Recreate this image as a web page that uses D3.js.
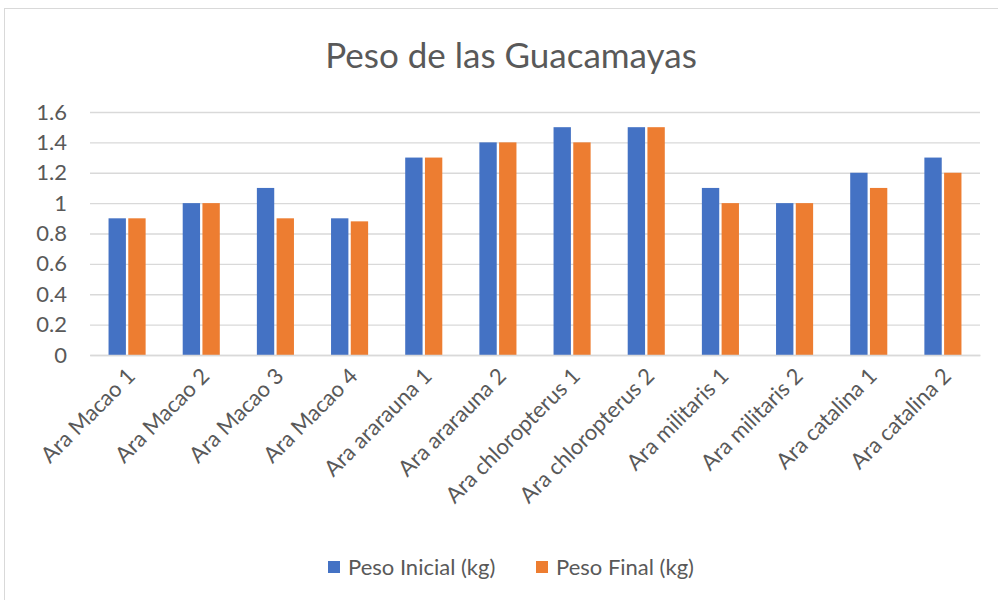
<!DOCTYPE html>
<html>
<head>
<meta charset="utf-8">
<script src="https://cdn.jsdelivr.net/npm/d3@7"></script>
<style>
  body { margin: 0; background: #fff; }
  text { font-family: Lato, "Open Sans", sans-serif; fill: #595959; }
</style>
</head>
<body>
<div id="chart"></div>
<script>
const categories = ['Ara Macao 1', 'Ara Macao 2', 'Ara Macao 3', 'Ara Macao 4', 'Ara ararauna 1', 'Ara ararauna 2',
  'Ara chloropterus 1', 'Ara chloropterus 2', 'Ara militaris 1', 'Ara militaris 2', 'Ara catalina 1', 'Ara catalina 2'];
const pesoInicial = [0.9, 1.0, 1.1, 0.9, 1.3, 1.4, 1.5, 1.5, 1.1, 1.0, 1.2, 1.3];
const pesoFinal = [0.9, 1.0, 0.9, 0.88, 1.3, 1.4, 1.4, 1.5, 1.0, 1.0, 1.1, 1.2];
const seriesNames = ['Peso Inicial (kg)', 'Peso Final (kg)'];
const yTicks = [0, 0.2, 0.4, 0.6, 0.8, 1, 1.2, 1.4, 1.6];

const width = 998, height = 600;
const margin = { top: 112, right: 18, bottom: 245, left: 90 };
const colors = ['#4472c4', '#ed7d31'];

const svg = d3.select('#chart').append('svg')
  .attr('width', width)
  .attr('height', height);

// chart border
svg.append('rect')
  .attr('x', 4.5).attr('y', 8.5)
  .attr('width', width).attr('height', height)
  .attr('fill', 'none').attr('stroke', '#d9d9d9');

svg.append('text')
  .attr('x', 511).attr('y', 68)
  .attr('text-anchor', 'middle')
  .style('font-size', '35px')
  .text('Peso de las Guacamayas');

const plotW = width - margin.left - margin.right;
const plotH = height - margin.top - margin.bottom;

const g = svg.append('g').attr('transform', `translate(${margin.left},${margin.top})`);

const x0 = d3.scaleBand().domain(categories).range([0, plotW]).paddingInner(0.5).paddingOuter(0.25);
const x1 = d3.scaleBand().domain([0, 1]).range([0, x0.bandwidth()]).paddingInner(0.12);
const y = d3.scaleLinear().domain([0, 1.6]).range([plotH, 0]);

// gridlines
g.append('g')
  .call(d3.axisLeft(y).tickValues(yTicks).tickSize(-plotW).tickFormat(d => d))
  .call(a => a.select('.domain').remove())
  .call(a => a.selectAll('.tick line').attr('stroke', '#d9d9d9').attr('stroke-width', 1.3))
  .call(a => a.selectAll('.tick text').attr('x', -23).style('font-size', '22px').attr('fill', '#595959'));

const rows = categories.map((c, i) => ({ cat: c, vals: [pesoInicial[i], pesoFinal[i]] }));

g.selectAll('.grp')
  .data(rows)
  .enter().append('g')
  .attr('transform', d => `translate(${x0(d.cat)},0)`)
  .selectAll('rect')
  .data(d => d.vals.map((v, k) => ({ k, v })))
  .enter().append('rect')
  .attr('x', d => x1(d.k))
  .attr('width', x1.bandwidth())
  .attr('y', d => y(d.v))
  .attr('height', d => plotH - y(d.v))
  .attr('fill', d => colors[d.k]);

// x axis
g.append('g')
  .attr('transform', `translate(0,${plotH})`)
  .call(d3.axisBottom(x0).tickSize(0))
  .call(a => a.select('.domain').attr('stroke', '#d9d9d9').attr('stroke-width', 1.3))
  .call(a => a.selectAll('.tick text')
    .style('font-size', '22px')
    .attr('fill', '#595959')
    .attr('text-anchor', 'end')
    .attr('dy', '0.35em')
    .attr('transform', 'translate(2,15) rotate(-45)'));

// legend
const legendX = [328, 536];
const legend = svg.append('g');
seriesNames.forEach((name, k) => {
  legend.append('rect')
    .attr('x', legendX[k]).attr('y', 561)
    .attr('width', 12).attr('height', 12)
    .attr('fill', colors[k]);
  legend.append('text')
    .attr('x', legendX[k] + 20).attr('y', 575)
    .style('font-size', '22px')
    .text(name);
});
</script>
</body>
</html>
